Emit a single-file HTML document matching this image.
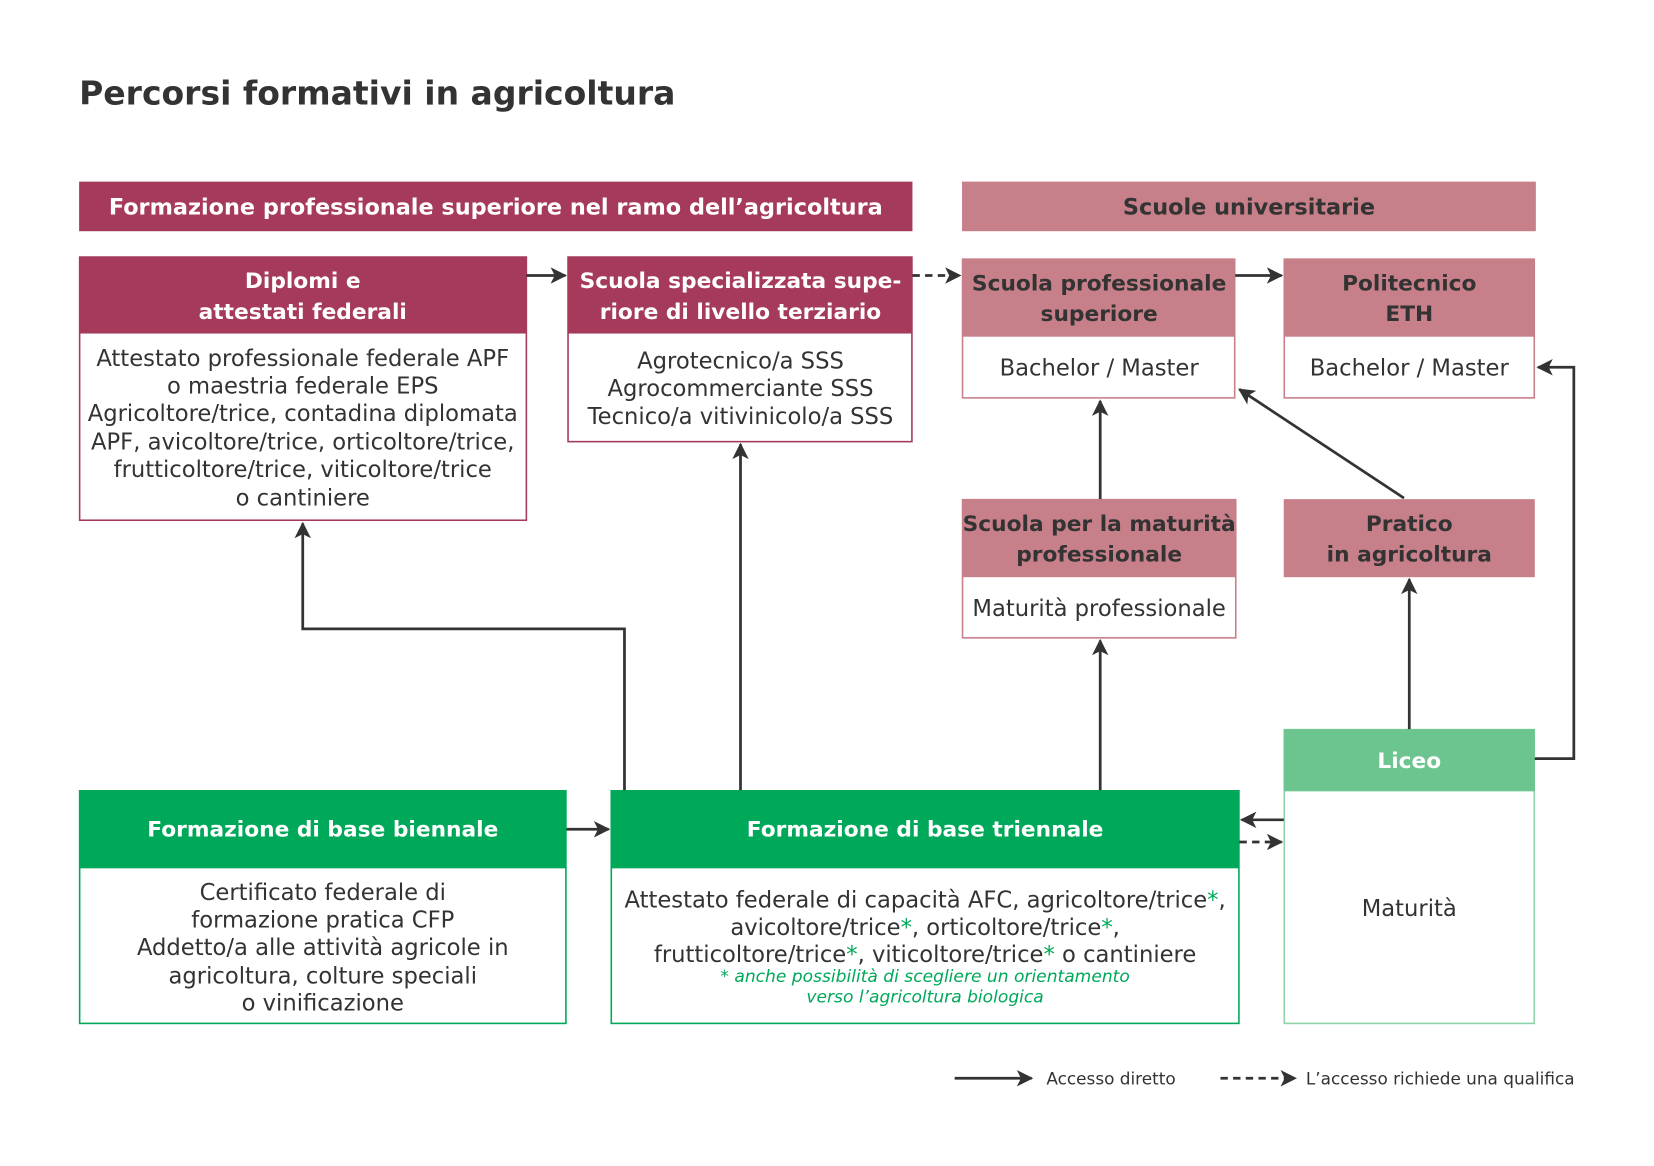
<!DOCTYPE html>
<html><head><meta charset="utf-8"><style>
html,body{margin:0;padding:0;background:#fff;}
svg{display:block;}
text{font-family:"DejaVu Sans","Liberation Sans",sans-serif;}
.h{font-weight:bold;font-size:20.6px;fill:#fff;text-anchor:middle;}
.hd{font-weight:bold;font-size:20.6px;fill:#333;text-anchor:middle;}
.b{font-size:21.5px;fill:#333;text-anchor:middle;}
.g{fill:#00a859;}
.ln{stroke:#333;stroke-width:2.6;fill:none;}
</style></head><body>
<svg width="1654" height="1166" viewBox="0 0 1568 1105" xmlns="http://www.w3.org/2000/svg">
<defs>
<marker id="a" viewBox="0 0 10 10" refX="9" refY="5" markerWidth="6" markerHeight="6" orient="auto" markerUnits="strokeWidth"><path d="M0,0 L10,5 L0,10 L2.5,5 z" fill="#333"/></marker>
</defs>
<rect width="1568" height="1105" fill="#fff"/>
<text x="75" y="99" style="font-weight:bold;font-size:31.3px;fill:#333">Percorsi formativi in agricoltura</text>

<rect x="75" y="172" width="790" height="47" fill="#a63a5b"/>
<text class="h" x="470" y="203" style="font-size:21.2px">Formazione professionale superiore nel ramo dell’agricoltura</text>
<rect x="912" y="172" width="544" height="47" fill="#c77f89"/>
<text class="hd" x="1184" y="203" style="font-size:21.2px">Scuole universitarie</text>

<rect x="75.5" y="243.5" width="423.5" height="249.5" fill="#fff" stroke="#a63a5b" stroke-width="1.5"/>
<rect x="75" y="243" width="424" height="73" fill="#a63a5b"/>
<text class="h" x="287" y="273">Diplomi e</text>
<text class="h" x="287" y="302">attestati federali</text>
<text class="b" x="287" y="347">Attestato professionale federale APF</text>
<text class="b" x="287" y="373">o maestria federale EPS</text>
<text class="b" x="287" y="399">Agricoltore/trice, contadina diplomata</text>
<text class="b" x="287" y="426">APF, avicoltore/trice, orticoltore/trice,</text>
<text class="b" x="287" y="452">frutticoltore/trice, viticoltore/trice</text>
<text class="b" x="287" y="479">o cantiniere</text>

<rect x="538.5" y="243.5" width="326" height="175" fill="#fff" stroke="#a63a5b" stroke-width="1.5"/>
<rect x="538" y="243" width="327" height="73" fill="#a63a5b"/>
<text class="h" x="702" y="273">Scuola specializzata supe-</text>
<text class="h" x="702" y="302">riore di livello terziario</text>
<text class="b" x="702" y="349">Agrotecnico/a SSS</text>
<text class="b" x="702" y="375">Agrocommerciante SSS</text>
<text class="b" x="702" y="402">Tecnico/a vitivinicolo/a SSS</text>

<rect x="912.5" y="245.5" width="258" height="131.5" fill="#fff" stroke="#c77f89" stroke-width="1.5"/>
<rect x="912" y="245" width="259" height="74" fill="#c77f89"/>
<text class="hd" x="1042" y="275">Scuola professionale</text>
<text class="hd" x="1042" y="304">superiore</text>
<text class="b" x="1042" y="356">Bachelor / Master</text>

<rect x="1217.5" y="245.5" width="237" height="131.5" fill="#fff" stroke="#c77f89" stroke-width="1.5"/>
<rect x="1217" y="245" width="238" height="74" fill="#c77f89"/>
<text class="hd" x="1336" y="275">Politecnico</text>
<text class="hd" x="1336" y="304">ETH</text>
<text class="b" x="1336" y="356">Bachelor / Master</text>

<rect x="912.5" y="473.5" width="259" height="131" fill="#fff" stroke="#c77f89" stroke-width="1.5"/>
<rect x="912" y="473" width="260" height="74" fill="#c77f89"/>
<text class="hd" x="1042" y="503">Scuola per la maturità</text>
<text class="hd" x="1042" y="532">professionale</text>
<text class="b" x="1042" y="584">Maturità professionale</text>

<rect x="1217" y="473" width="238" height="74" fill="#c77f89"/>
<text class="hd" x="1336" y="503">Pratico</text>
<text class="hd" x="1336" y="532">in agricoltura</text>

<rect x="1217.5" y="691.5" width="237" height="278.5" fill="#fff" stroke="#8fd4a8" stroke-width="1.5"/>
<rect x="1217" y="691" width="238" height="59" fill="#6cc48f"/>
<text class="h" x="1336" y="728">Liceo</text>
<text class="b" x="1336" y="868">Maturità</text>

<rect x="75.5" y="749.5" width="461" height="220.5" fill="#fff" stroke="#00a859" stroke-width="1.5"/>
<rect x="75" y="749" width="462" height="74" fill="#00a859"/>
<text class="h" x="306" y="793">Formazione di base biennale</text>
<text class="b" x="306" y="853">Certificato federale di</text>
<text class="b" x="306" y="879">formazione pratica CFP</text>
<text class="b" x="306" y="905">Addetto/a alle attività agricole in</text>
<text class="b" x="306" y="932">agricoltura, colture speciali</text>
<text class="b" x="306" y="958">o vinificazione</text>

<rect x="579.5" y="749.5" width="595" height="220.5" fill="#fff" stroke="#00a859" stroke-width="1.5"/>
<rect x="579" y="749" width="596" height="74" fill="#00a859"/>
<text class="h" x="877" y="793">Formazione di base triennale</text>
<text class="b" x="877" y="860">Attestato federale di capacità AFC, agricoltore/trice<tspan class="g">*</tspan>,</text>
<text class="b" x="877" y="886">avicoltore/trice<tspan class="g">*</tspan>, orticoltore/trice<tspan class="g">*</tspan>,</text>
<text class="b" x="877" y="912">frutticoltore/trice<tspan class="g">*</tspan>, viticoltore/trice<tspan class="g">*</tspan> o cantiniere</text>
<text x="877" y="931" style="font-size:16.2px;font-style:italic;fill:#00a859;text-anchor:middle">* anche possibilità di scegliere un orientamento</text>
<text x="877" y="950" style="font-size:16.2px;font-style:italic;fill:#00a859;text-anchor:middle">verso l’agricoltura biologica</text>

<line class="ln" x1="499" y1="261" x2="536" y2="261" marker-end="url(#a)"/>
<line class="ln" x1="865" y1="261" x2="910" y2="261" stroke-dasharray="7,5" marker-end="url(#a)"/>
<line class="ln" x1="1171" y1="261" x2="1215" y2="261" marker-end="url(#a)"/>
<line class="ln" x1="1043" y1="473" x2="1043" y2="380" marker-end="url(#a)"/>
<line class="ln" x1="1331" y1="472" x2="1175" y2="369" marker-end="url(#a)"/>
<polyline class="ln" points="1455,719 1492,719 1492,348 1458,348" marker-end="url(#a)"/>
<line class="ln" x1="1336" y1="691" x2="1336" y2="549" marker-end="url(#a)"/>
<line class="ln" x1="1043" y1="749" x2="1043" y2="607" marker-end="url(#a)"/>
<line class="ln" x1="702" y1="749" x2="702" y2="421" marker-end="url(#a)"/>
<polyline class="ln" points="592,749 592,596 287,596 287,496" marker-end="url(#a)"/>
<line class="ln" x1="537" y1="786" x2="577" y2="786" marker-end="url(#a)"/>
<line class="ln" x1="1217" y1="777" x2="1177" y2="777" marker-end="url(#a)"/>
<line class="ln" x1="1175" y1="798" x2="1215" y2="798" stroke-dasharray="7,5" marker-end="url(#a)"/>

<line class="ln" x1="905" y1="1022" x2="978" y2="1022" marker-end="url(#a)"/>
<text x="992" y="1028" style="font-size:16px;fill:#333">Accesso diretto</text>
<line class="ln" x1="1157" y1="1022" x2="1228" y2="1022" stroke-dasharray="7,5" marker-end="url(#a)"/>
<text x="1238" y="1028" style="font-size:16px;fill:#333">L’accesso richiede una qualifica</text>
</svg>
</body></html>
